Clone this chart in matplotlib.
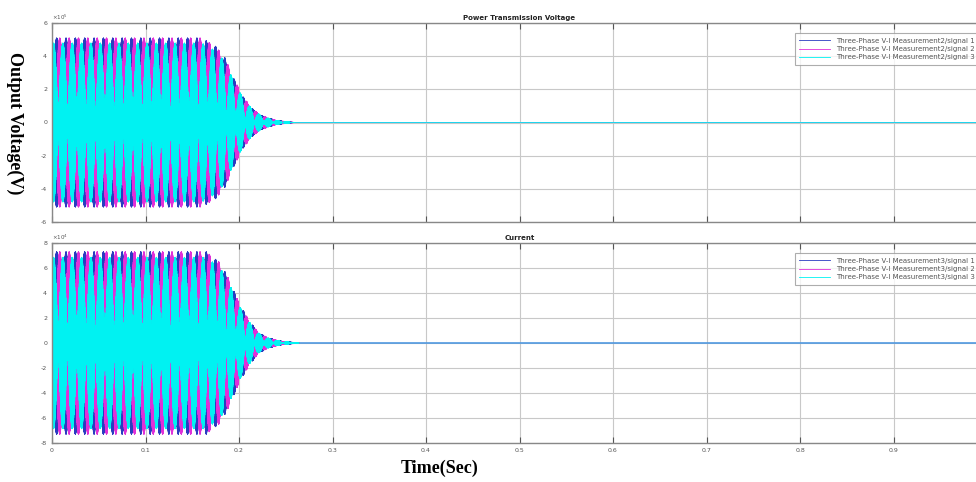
import numpy as np
import matplotlib
matplotlib.use("Agg")
import matplotlib.pyplot as plt

# ---- data ----
# envelope knots (time in s, amplitude in plotted units)
volt_env_t = [0.0, 0.16, 0.175, 0.185, 0.195, 0.205, 0.215, 0.225, 0.24, 0.26, 1.0]
volt_env_a = [5.1, 5.1, 4.6, 3.9, 2.6, 1.5, 0.8, 0.4, 0.12, 0.0, 0.0]
curr_env_t = [0.0, 0.165, 0.18, 0.19, 0.2, 0.21, 0.22, 0.23, 0.245, 0.265, 1.0]
curr_env_a = [7.3, 7.3, 6.4, 5.0, 3.2, 1.9, 0.9, 0.45, 0.15, 0.0, 0.0]
phase_gain = [1.0, 1.0, 0.94]          # cyan phase slightly smaller
phase_shift_deg = [0, -120, 120]
carrier_hz = 4950.0                    # sampled near Nyquist -> 50 Hz beat pattern
series_names = ["Three-Phase V-I Measurement2/signal 1",
                "Three-Phase V-I Measurement2/signal 2",
                "Three-Phase V-I Measurement2/signal 3"]
series_names_b = ["Three-Phase V-I Measurement3/signal 1",
                  "Three-Phase V-I Measurement3/signal 2",
                  "Three-Phase V-I Measurement3/signal 3"]
colors = ["#2a3cc0", "#e030d8", "#00f2f2"]
xticks = [0, 0.1, 0.2, 0.3, 0.4, 0.5, 0.6, 0.7, 0.8, 0.9]
xtick_labels = ["0", "0.1", "0.2", "0.3", "0.4", "0.5", "0.6", "0.7", "0.8", "0.9"]
volt_yticks = [-6, -4, -2, 0, 2, 4, 6]
curr_yticks = [-8, -6, -4, -2, 0, 2, 4, 6, 8]

t = np.arange(0, 1.0, 1e-4)

fig = plt.figure(figsize=(9.76, 4.82), dpi=100)
W, H = 976, 482
def rect(x0, y0, x1, y1):
    return [x0 / W, 1 - y1 / H, (x1 - x0) / W, (y1 - y0) / H]

ax1 = fig.add_axes(rect(52, 23, 987, 222))
ax2 = fig.add_axes(rect(52, 243, 987, 443))

def draw(ax, env_t, env_a, yticks, title, names, expo):
    env = np.interp(t, env_t, env_a)
    for k in range(3):
        y = phase_gain[k] * env * np.sin(2 * np.pi * carrier_hz * t + np.deg2rad(phase_shift_deg[k]))
        ax.plot(t, y, color=colors[k], lw=0.6, label=names[k])
    ax.set_xlim(0, 1.0)
    ax.set_ylim(yticks[0], yticks[-1])
    ax.set_xticks(xticks)
    ax.set_yticks(yticks)
    ax.set_yticklabels([str(v) for v in yticks])
    ax.grid(True, color="#c8c8c8", lw=0.8)
    ax.tick_params(direction="in", labelsize=4.5, colors="#555555", length=4,
                   top=True, right=True)
    for s in ax.spines.values():
        s.set_color("#888888")
        s.set_linewidth(1.0)
    ax.set_title(title, fontsize=5, fontweight="bold", pad=2, color="#222222")
    ax.text(0.0, 1.005, expo, transform=ax.transAxes, fontsize=4, color="#555555",
            ha="left", va="bottom")
    leg = ax.legend(loc="upper right", fontsize=5, frameon=True, fancybox=False,
                    borderpad=0.6, labelspacing=0.35, handlelength=4.5,
                    bbox_to_anchor=(0.995, 0.965))
    leg.get_frame().set_edgecolor("#999999")
    leg.get_frame().set_linewidth(0.8)
    for tx in leg.get_texts():
        tx.set_color("#555555")

draw(ax1, volt_env_t, volt_env_a, volt_yticks, "Power Transmission Voltage", series_names, r"$\times10^5$")
draw(ax2, curr_env_t, curr_env_a, curr_yticks, "Current", series_names_b, r"$\times10^4$")
ax1.set_xticklabels([])
ax2.set_xticklabels(xtick_labels)

fig.text(15 / W, 1 - 123 / H, "Output Voltage(V)", rotation=270, ha="center", va="center",
         fontsize=13, fontweight="bold", family="Liberation Serif")
fig.text(440 / W, 1 - 468 / H, "Time(Sec)", ha="center", va="center",
         fontsize=13, fontweight="bold", family="Liberation Serif")

fig.savefig("out.png", dpi=100)
